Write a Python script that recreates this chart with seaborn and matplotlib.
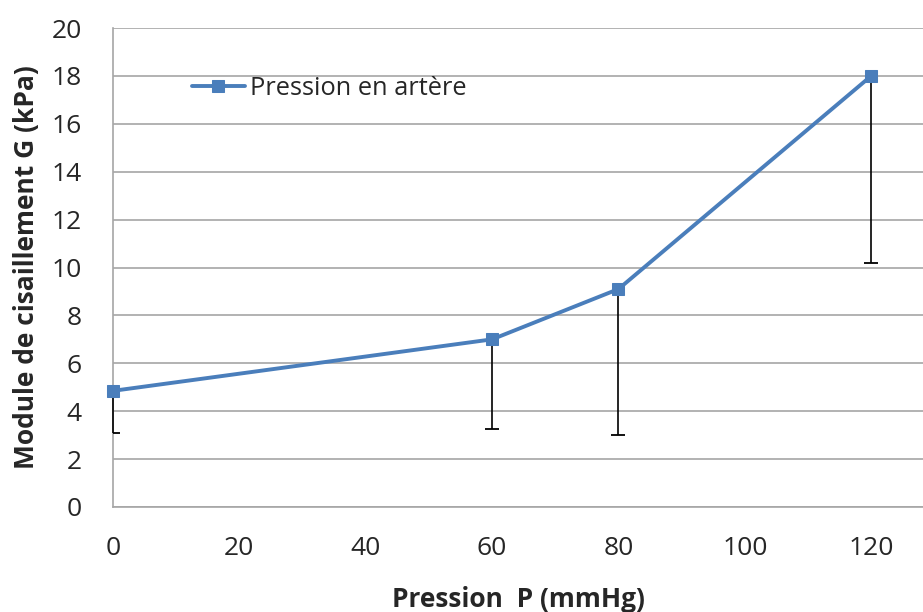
import matplotlib
matplotlib.use("Agg")
import matplotlib.pyplot as plt
import seaborn as sns
import pandas as pd
import numpy as np

pressure = [0, 60, 80, 120]
modulus = [4.85, 7.0, 9.1, 18.0]
modulus_low = [3.1, 3.27, 3.0, 10.17]
series_name = "Pression en artère"
x_ticks = [0, 20, 40, 60, 80, 100, 120]
y_ticks = [0, 2, 4, 6, 8, 10, 12, 14, 16, 18, 20]

sns.set_style("white")
plt.rcParams['font.family'] = ['Open Sans', 'DejaVu Sans']

df = pd.DataFrame({"P": pressure, "G": modulus, "series": series_name})

fig = plt.figure(figsize=(9.23, 6.12), dpi=100)
ax = fig.add_axes([113/923, 105/612, 810/923, 479/612])

lower_err = np.array(modulus) - np.array(modulus_low)
eb = ax.errorbar(pressure, modulus, yerr=[lower_err, np.zeros_like(lower_err)],
                 fmt='none', ecolor='black', elinewidth=1.2, capsize=0, zorder=3)
for c in eb.lines[2]:
    c.set_clip_on(False)
ax.plot(pressure, modulus_low, linestyle='none', marker='_', markersize=9.5,
        markeredgewidth=1.3, color='black', zorder=3)

blue = "#4A7EBB"
sns.lineplot(data=df, x="P", y="G", ax=ax, color=blue, linewidth=2.8,
             marker='s', markersize=8.5, markeredgecolor=blue, label=series_name,
             zorder=4, clip_on=False)

ax.set_xlim(0, 128.2)
ax.set_ylim(0, 20)
ax.set_xticks(x_ticks)
ax.set_yticks(y_ticks)
ax.yaxis.grid(True, color='#A6A6A6', linewidth=1.2)
ax.xaxis.grid(False)
for s in ['top', 'right']:
    ax.spines[s].set_visible(False)
for s in ['left', 'bottom']:
    ax.spines[s].set_color('#A6A6A6')
    ax.spines[s].set_linewidth(1.2)
ax.tick_params(axis='y', length=9.5, width=1.2, color='#A6A6A6', pad=13, labelsize=19, labelcolor='#262626')
ax.tick_params(axis='x', length=3.6, width=1.2, color='#A6A6A6', pad=17, labelsize=19, labelcolor='#262626')

ax.set_xlabel("Pression  P (mmHg)", fontsize=19, fontweight='bold', labelpad=18)
ax.set_ylabel("Module de cisaillement G (kPa)", fontsize=19, fontweight='bold', labelpad=8)

leg = ax.legend(loc='center left', bbox_to_anchor=(0.097, 0.873), frameon=False,
                fontsize=18.3, handlelength=2.1, handletextpad=0.2, borderaxespad=0,
                borderpad=0)
for t in leg.get_texts():
    t.set_color('#262626')

fig.savefig("out.png", dpi=100)
